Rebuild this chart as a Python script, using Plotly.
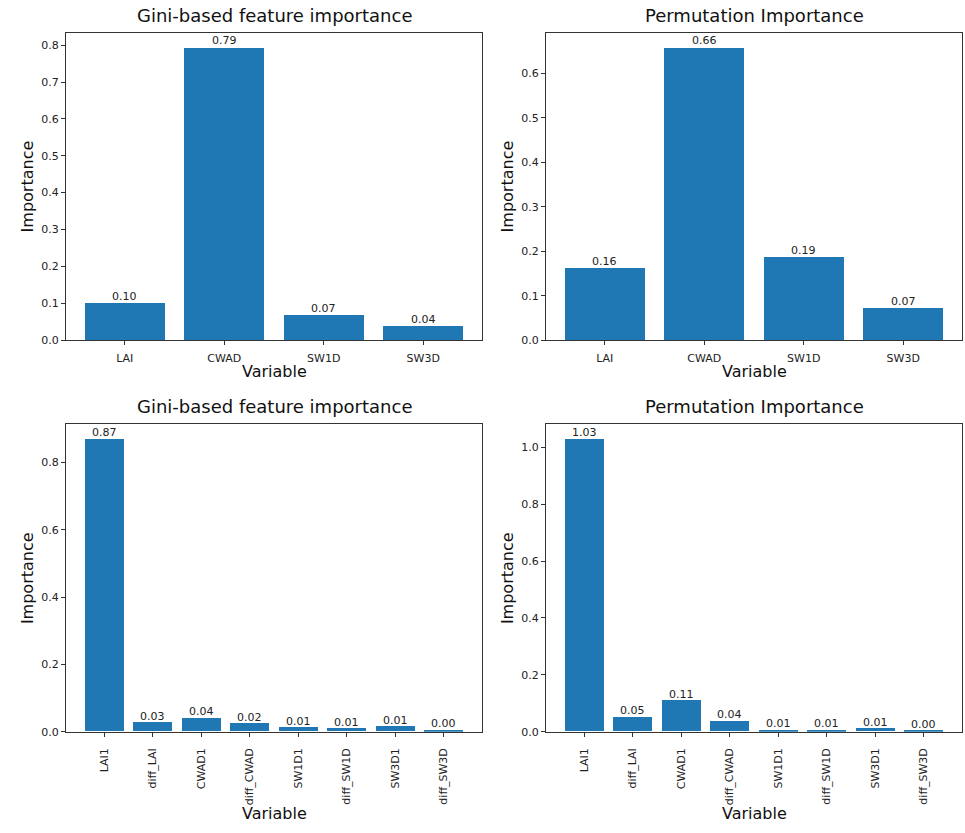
import plotly.graph_objects as go

# ---- data ----
vars_a = ["LAI", "CWAD", "SW1D", "SW3D"]
gini_a = [0.102, 0.794, 0.068, 0.039]
perm_a = [0.163, 0.659, 0.188, 0.073]

vars_b = ["LAI1", "diff_LAI", "CWAD1", "diff_CWAD", "SW1D1", "diff_SW1D", "SW3D1", "diff_SW3D"]
gini_b = [0.870, 0.027, 0.041, 0.024, 0.012, 0.009, 0.015, 0.004]
perm_b = [1.029, 0.051, 0.109, 0.037, 0.006, 0.006, 0.011, 0.002]

titles = ["Gini-based feature importance", "Permutation Importance",
          "Gini-based feature importance", "Permutation Importance"]

W, H = 965, 833
FONT = "DejaVu Sans"
BAR = "#1f77b4"
INK = "#222222"

# panel boxes in pixels: (left, right, top, bottom)
boxes = [(66, 482, 33, 343), (546, 962, 33, 343),
         (66, 482, 428, 738), (546, 962, 428, 738)]
panels = [(vars_a, gini_a, 0), (vars_a, perm_a, 0),
          (vars_b, gini_b, 90), (vars_b, perm_b, 90)]

fig = go.Figure()
annotations = []

for i, ((names, vals, rot), (l, r, t, b), title) in enumerate(zip(panels, boxes, titles)):
    n = i + 1
    xa = "x" if n == 1 else f"x{n}"
    ya = "y" if n == 1 else f"y{n}"
    pos = list(range(len(names)))
    fig.add_trace(go.Bar(x=pos, y=vals, width=0.8, marker=dict(color=BAR, line=dict(width=0)),
                         xaxis=xa, yaxis=ya, showlegend=False, hoverinfo="x+y"))
    # value labels above each bar
    for p, v in zip(pos, vals):
        annotations.append(dict(x=p, y=v, xref=xa, yref=ya, text=f"{v:.2f}", showarrow=False,
                                yanchor="bottom", yshift=-2,
                                font=dict(family=FONT, size=11, color=INK)))
    span = len(names) - 0.2
    pad = 0.05 * span
    xr = [-0.4 - pad, len(names) - 1 + 0.4 + pad]
    yr = [0, max(vals) * 1.05]
    dom_x = [l / W, r / W]
    dom_y = [1 - b / H, 1 - t / H]
    axis_common = dict(showline=True, linecolor="#333333", linewidth=1, mirror=True,
                       ticks="outside", ticklen=4, tickcolor="#333333", showgrid=False,
                       zeroline=False, tickfont=dict(family=FONT, size=11, color=INK))
    fig.layout[f"xaxis{'' if n == 1 else n}"] = dict(
        domain=dom_x, anchor=ya, range=xr, tickmode="array", tickvals=pos, ticktext=names,
        tickangle=-rot if rot else 0, ticklabelstandoff=(7 if rot else 4), **axis_common)
    fig.layout[f"yaxis{'' if n == 1 else n}"] = dict(
        domain=dom_y, anchor=xa, range=yr, tickformat=".1f", **axis_common)
    # panel title
    annotations.append(dict(x=(l + r) / 2 / W, y=1 - (t - 5) / H, xref="paper", yref="paper",
                            text=title, showarrow=False, xanchor="center", yanchor="bottom",
                            font=dict(family=FONT, size=18, color="#111111")))
    # y axis title
    annotations.append(dict(x=(l - 39) / W, y=1 - (t + b) / 2 / H, xref="paper", yref="paper",
                            text="Importance", showarrow=False, textangle=-90,
                            xanchor="center", yanchor="middle",
                            font=dict(family=FONT, size=16, color="#111111")))
    # x axis title
    xlab_y = 375 if rot == 0 else 820
    annotations.append(dict(x=(l + r) / 2 / W, y=1 - xlab_y / H, xref="paper", yref="paper",
                            text="Variable", showarrow=False, xanchor="center", yanchor="middle",
                            font=dict(family=FONT, size=16, color="#111111")))

fig.update_layout(width=W, height=H, margin=dict(l=0, r=0, t=0, b=0),
                  paper_bgcolor="white", plot_bgcolor="white",
                  annotations=annotations, bargap=0)

fig.write_html("out.html")
